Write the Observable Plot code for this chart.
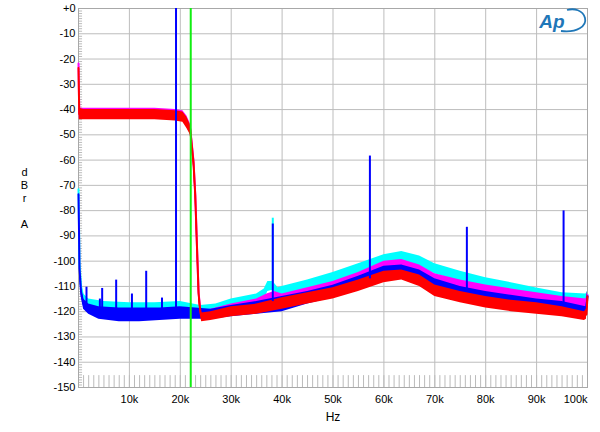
<!DOCTYPE html>
<html>
<head>
<meta charset="utf-8">
<script src="https://cdn.jsdelivr.net/npm/d3@7"></script>
<script src="https://cdn.jsdelivr.net/npm/@observablehq/plot@0.6"></script>
<style>
  html, body { margin: 0; padding: 0; background: white; }
  #chart { width: 600px; height: 432px; position: relative; }
</style>
</head>
<body>
<div id="chart"></div>
<script>
// ---- data (Hz, dBrA) ----
const redF  = [0, 150, 1000, 5000, 10000, 15000, 19000, 20500, 21300, 21960, 22600, 22940, 23270, 23600, 23900, 24200, 26000, 30000, 35000, 40000, 45000, 50000, 55000, 60000, 63500, 67000, 70000, 75000, 80000, 85000, 90000, 95000, 99400, 99800, 100000];
const redLo = [-25, -44, -44, -44, -44, -44, -44.5, -45, -47.5, -50, -63, -76, -96, -115, -121, -124, -123.5, -122, -121, -119, -117, -115, -112, -108.5, -107.5, -110, -114, -116.5, -118.5, -120, -121, -122, -123.5, -123, -116];
const redHi = [-22, -39.5, -40, -40, -40, -40, -40.5, -41, -43, -46, -59, -72, -92, -111, -117.5, -120.5, -120, -118, -117, -114.5, -112.5, -110.5, -107.5, -104, -103.5, -105.5, -109.4, -112, -114, -115.5, -116.5, -118, -120, -119, -112];

const magF  = [0, 150, 1000, 5000, 10000, 15000, 19000, 20500, 21300, 21960, 22600, 22940, 23270, 23600, 23900, 24200, 26000, 30000, 35000, 37000, 38500, 40000, 45000, 50000, 55000, 60000, 63500, 67000, 70000, 75000, 80000, 85000, 90000, 95000, 99700, 100000];
const magLo = [-23, -43.5, -43.5, -43.5, -43.5, -43.5, -44, -44.5, -47, -49.5, -62.5, -75.5, -95.5, -114.5, -120.5, -123, -122.5, -121, -119, -117, -116, -116.5, -114.5, -112, -108.5, -104, -103, -105.5, -109, -111.5, -114, -115.5, -116.5, -117.5, -119, -115];
const magHi = [-20.5, -39.5, -39.5, -39.5, -39.5, -39.5, -40, -40.5, -42.5, -45.5, -58.5, -71.5, -91.5, -110.5, -117, -119.5, -119, -117, -115, -113, -112, -113, -110.5, -108, -104.5, -100, -99.3, -101.5, -105, -107.5, -109.4, -111, -112.5, -114, -115, -112];

const bluF  = [0, 200, 500, 1000, 2000, 4000, 8000, 12000, 16000, 20000, 23000, 26000, 30000, 35000, 40000, 45000, 50000, 55000, 60000, 63500, 67000, 70000, 75000, 80000, 85000, 90000, 95000, 99700, 100000];
const bluLo = [-75, -106, -114, -119, -121, -123, -124, -124, -123.5, -123, -123, -123, -122, -121, -120, -117, -114.5, -111, -106.5, -105.5, -108, -111.5, -114, -117, -118.5, -119.5, -120.5, -122, -116];
const bluHi = [-72, -100, -110, -115, -117, -118, -118.5, -118.5, -118.5, -118, -118.5, -119, -117.5, -116, -114, -112, -109.5, -106, -102, -101.5, -103.5, -107, -110, -112, -113.5, -115, -116, -118, -112];

const cyaF  = [0, 200, 500, 1000, 2000, 5000, 10000, 15000, 20000, 24000, 27000, 30000, 35000, 36500, 37200, 38200, 39200, 40000, 45000, 50000, 55000, 60000, 63500, 67000, 70000, 75000, 80000, 85000, 90000, 95000, 99700, 100000];
const cyaLo = [-73, -104, -112, -117, -119, -120, -120.5, -120.5, -120, -121, -120.5, -119, -116.5, -115, -112, -111.5, -113.5, -114, -111.5, -109, -105, -101.5, -100, -102, -105, -108, -111, -113, -115, -116.5, -118.5, -115];
const cyaHi = [-70, -98, -108, -113, -115, -116, -116.5, -116.5, -116, -117.5, -117, -115, -113, -111, -108, -108, -110.5, -110, -107.5, -104.5, -101, -97.5, -96.2, -98, -101, -104, -106.6, -108.5, -110.6, -112.5, -113, -112];

// discrete tones (blue trace) and the cyan tone at 38 kHz
const spikeF    = [1570, 4200, 4650, 7400, 10500, 13300, 16400, 19160, 38170, 57250, 76300, 95300];
const spikeTop  = [-110.3, -115, -110.8, -107.5, -113, -104, -114.6, 0, -85.3, -58.4, -86.6, -80.1];
const spikeBase = [-119, -120, -120, -120, -120, -120, -120, -120, -116, -107, -111, -117];
const cyanSpikeF = [38170];
const cyanSpikeTop = [-83];
const cyanSpikeBase = [-110];

const markerF = [22050]; // green cursor line

const xTicks = [10000, 20000, 30000, 40000, 50000, 60000, 70000, 80000, 90000];
const xLastTick = [100000];
const yTicks = [0, -10, -20, -30, -40, -50, -60, -70, -80, -90, -100, -110, -120, -130, -140, -150];
const xLabel = "Hz";
const yLabel = "d\nB\nr\n\nA";

// ---- build tables ----
const mk = (F, L, H) => F.map((f, i) => ({f, lo: L[i], hi: H[i], mid: (L[i] + H[i]) / 2}));
const red = mk(redF, redLo, redHi);
const mag = mk(magF, magLo, magHi);
const blu = mk(bluF, bluLo, bluHi);
const cya = mk(cyaF, cyaLo, cyaHi);
const spikes = spikeF.map((f, i) => ({f, top: spikeTop[i], base: spikeBase[i]}));
const cspikes = cyanSpikeF.map((f, i) => ({f, top: cyanSpikeTop[i], base: cyanSpikeBase[i]}));

const minorY = d3.range(-149, 0).filter(v => v % 10 !== 0);
const minorX = d3.range(1000, 100000, 1000);

const C = {red: "#ff0000", mag: "#ff00ff", blu: "#0000ff", cya: "#00ffff", grn: "#11ee11"};

function series(data, color) {
  return [
    Plot.areaY(data, {x: "f", y1: "lo", y2: "hi", fill: color}),
    Plot.line(data, {x: "f", y: "mid", stroke: color, strokeWidth: 2})
  ];
}

const chart = Plot.plot({
  width: 600,
  height: 432,
  marginLeft: 78,
  marginRight: 13,
  marginTop: 8,
  marginBottom: 45,
  style: {fontFamily: "'Liberation Sans', Arial, sans-serif", fontSize: "11px", background: "white", color: "black"},
  x: {domain: [0, 100000], ticks: xTicks, tickFormat: d => d / 1000 + "k", tickSize: 0, tickPadding: 8, label: null},
  y: {domain: [-150, 0], ticks: yTicks, tickFormat: d => d === 0 ? "+0" : String(d), tickSize: 0, tickPadding: 3, label: null},
  marks: [
    Plot.ruleX(xTicks, {stroke: "#bdbdbd", strokeWidth: 1}),
    Plot.ruleY(yTicks, {stroke: "#bdbdbd", strokeWidth: 1}),
    Plot.ruleY(minorY, {x1: 0, x2: 800, stroke: "#bbbbbb", strokeWidth: 1}),
    Plot.ruleX(minorX, {y1: -150, y2: -145.3, stroke: "#bbbbbb", strokeWidth: 1}),
    Plot.frame({stroke: "#a8a8a8"}),
    ...series(cya, C.cya),
    ...series(mag, C.mag),
    ...series(blu, C.blu),
    ...series(red, C.red),
    Plot.ruleX(cspikes, {x: "f", y1: "base", y2: "top", stroke: C.cya, strokeWidth: 2}),
    Plot.ruleX(spikes, {x: "f", y1: "base", y2: "top", stroke: C.blu, strokeWidth: 2}),
    Plot.ruleX(markerF, {stroke: C.grn, strokeWidth: 2}),
    Plot.text(xLastTick, {x: d => d, y: () => -150, text: d => d / 1000 + "k", textAnchor: "end", lineAnchor: "top", dy: 8, fill: "black"}),
    Plot.text([xLabel], {frameAnchor: "bottom", text: d => d, lineAnchor: "middle", dy: 30, fill: "black", fontSize: 12}),
    Plot.text([yLabel], {frameAnchor: "left", text: d => d, textAnchor: "middle", lineAnchor: "middle", lineHeight: 1.18, dx: -54, fill: "black", fontSize: 11})
  ]
});

// Audio Precision logo (decoration)
const svg = d3.select(chart);
const logo = svg.append("g").attr("fill", "none");
logo.append("text")
  .attr("x", 552).attr("y", 28)
  .attr("font-family", "'Liberation Sans', Arial, sans-serif")
  .attr("font-style", "italic").attr("font-weight", "bold")
  .attr("font-size", 19).attr("fill", "#1f77b8")
  .text("Ap");
logo.append("path")
  .attr("d", "M 561 31 C 577 33 587 26 585 18 C 583 10 574 8 567 10")
  .attr("stroke", "#1f77b8").attr("stroke-width", 1.8);

document.getElementById("chart").appendChild(chart);
</script>
</body>
</html>
